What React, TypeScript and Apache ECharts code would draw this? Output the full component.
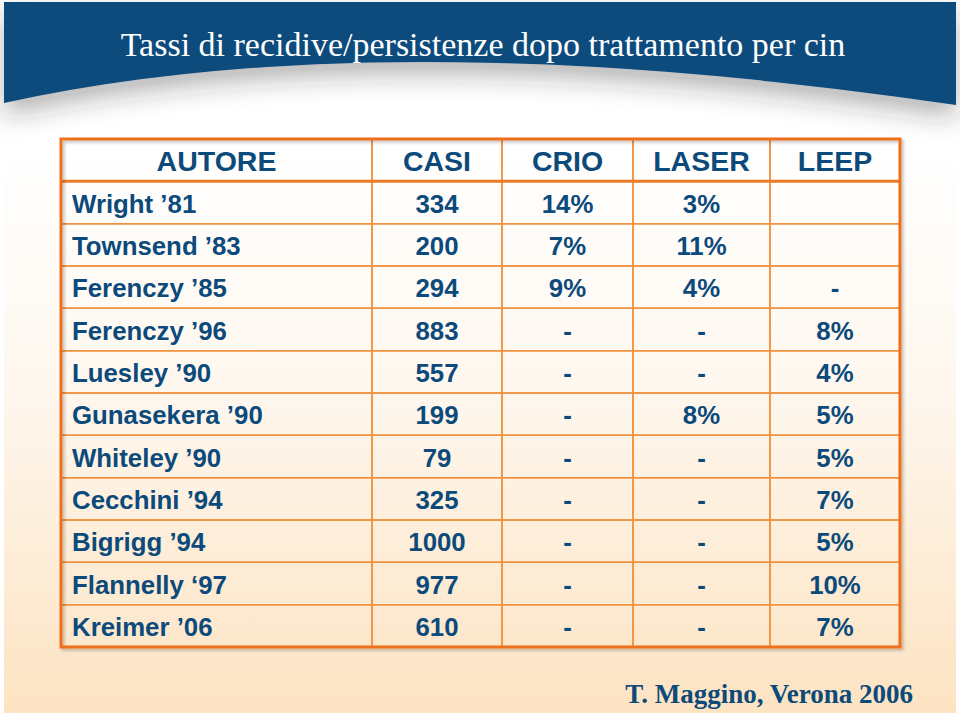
import React, { useEffect, useRef } from "react";
import * as echarts from "echarts";

// ---- data ----
const TITLE = "Tassi di recidive/persistenze dopo trattamento per cin";
const FOOTER = "T. Maggino, Verona 2006";
const HEADERS = ["AUTORE", "CASI", "CRIO", "LASER", "LEEP"];
const AUTHORS = [
  "Wright \u201981",
  "Townsend \u201983",
  "Ferenczy \u201985",
  "Ferenczy \u201996",
  "Luesley \u201990",
  "Gunasekera \u201990",
  "Whiteley \u201990",
  "Cecchini \u201994",
  "Bigrigg \u201994",
  "Flannelly \u201897",
  "Kreimer \u201906",
];
const CASI = [334, 200, 294, 883, 557, 199, 79, 325, 1000, 977, 610];
const CRIO = ["14%", "7%", "9%", "-", "-", "-", "-", "-", "-", "-", "-"];
const LASER = ["3%", "11%", "4%", "-", "-", "8%", "-", "-", "-", "-", "-"];
const LEEP = ["", "", "-", "8%", "4%", "5%", "5%", "7%", "5%", "10%", "7%"];

// ---- layout (not data) ----
const COL_EDGES = [0, 37.07, 52.56, 68.18, 84.5, 100];
const ROW_KEYS = ["header", ...AUTHORS];
const TEXT_COLOR = "#0C4A7B";

const columns = [AUTHORS, CASI.map(String), CRIO, LASER, LEEP];
const cellData: number[][] = [];
const cellText: string[] = [];
for (let r = 0; r < ROW_KEYS.length; r++) {
  for (let c = 0; c < HEADERS.length; c++) {
    cellData.push([c, r]);
    cellText.push(r === 0 ? HEADERS[c] : String(columns[c][r - 1]));
  }
}

let registered = false;
function registerShapes() {
  if (registered) return;
  registered = true;
  const d = "M4,2 L956,2 L956,105 Q380,20 4,103 Z";
  echarts.graphic.registerShape("bluewave", echarts.graphic.extendPath(d, {}) as any);
}

export default function App() {
  const ref = useRef<HTMLDivElement>(null);
  useEffect(() => {
    if (!ref.current) return;
    registerShapes();
    const chart = echarts.init(ref.current, null, { renderer: "svg" });
    const option: any = {
      animation: false,
      backgroundColor: "#ffffff",
      grid: { left: 61, right: 60, top: 139, bottom: 69, containLabel: false },
      xAxis: { type: "value", min: 0, max: 100, show: false },
      yAxis: { type: "category", data: ROW_KEYS, inverse: true, show: false },
      graphic: [
        {
          type: "rect",
          z: -20,
          shape: { x: 4, y: 2, width: 952, height: 711 },
          style: {
            fill: {
              type: "linear",
              x: 0,
              y: 0,
              x2: 0,
              y2: 1,
              colorStops: [
                { offset: 0, color: "#ffffff" },
                { offset: 0.2, color: "#ffffff" },
                { offset: 0.55, color: "#FEF7EE" },
                { offset: 1, color: "#FCE3C2" },
              ],
            },
          },
        },
        {
          type: "bluewave",
          z: -10,
          x: 0,
          y: 0,
          style: {
            fill: "#0B4C7D",
            shadowColor: "rgba(40,40,40,0.35)",
            shadowBlur: 26,
            shadowOffsetY: 12,
          },
        },
        {
          type: "text",
          z: 10,
          x: 483,
          y: 44,
          style: {
            text: TITLE,
            fill: "#ffffff",
            font: "normal 34px 'Liberation Serif', 'Times New Roman', serif",
            align: "center",
            verticalAlign: "middle",
            textAlign: "center",
            textVerticalAlign: "middle",
          },
        },
        {
          type: "text",
          z: 10,
          x: 913,
          y: 694,
          style: {
            text: FOOTER,
            fill: "#0E4A79",
            font: "bold 27px 'Liberation Serif', 'Times New Roman', serif",
            align: "right",
            verticalAlign: "middle",
            textAlign: "right",
            textVerticalAlign: "middle",
          },
        },
      ],
      series: [
        {
          type: "custom",
          name: "cells",
          z: 3,
          data: cellData,
          renderItem: (params: any, api: any) => {
            const c = api.value(0);
            const r = api.value(1);
            const x0 = api.coord([COL_EDGES[c], r])[0];
            const x1 = api.coord([COL_EDGES[c + 1], r])[0];
            const yc = api.coord([0, r])[1];
            const h = api.size([0, 1])[1];
            const isHeader = r === 0;
            const leftAlign = !isHeader && c === 0;
            const text = cellText[params.dataIndex];
            return {
              type: "group",
              children: [
                {
                  type: "rect",
                  shape: { x: x0, y: yc - h / 2, width: x1 - x0, height: h },
                  style: { fill: "transparent", stroke: "#F0923F", lineWidth: 1.5 },
                },
                {
                  type: "text",
                  x: leftAlign ? x0 + 11 : (x0 + x1) / 2,
                  y: yc + 1,
                  style: {
                    text,
                    fill: TEXT_COLOR,
                    font: isHeader
                      ? "bold 28.5px 'Liberation Sans', Arial, sans-serif"
                      : "bold 25.8px 'Liberation Sans', Arial, sans-serif",
                    align: leftAlign ? "left" : "center",
                    verticalAlign: "middle",
                    textAlign: leftAlign ? "left" : "center",
                    textVerticalAlign: "middle",
                  },
                },
              ],
            };
          },
        },
        {
          type: "custom",
          name: "frame",
          z: 4,
          data: [[0, 0]],
          renderItem: (params: any, api: any) => {
            const h = api.size([0, 1])[1];
            const tl = api.coord([0, 0]);
            const br = api.coord([100, ROW_KEYS.length - 1]);
            const top = tl[1] - h / 2;
            const bottom = br[1] + h / 2;
            return {
              type: "group",
              children: [
                {
                  type: "line",
                  shape: { x1: tl[0], y1: top + h, x2: br[0], y2: top + h },
                  style: { stroke: "#EE7A28", lineWidth: 3 },
                },
                {
                  type: "rect",
                  shape: { x: tl[0], y: top, width: br[0] - tl[0], height: bottom - top },
                  style: {
                    fill: "transparent",
                    stroke: "#EE6F1C",
                    lineWidth: 3,
                    shadowColor: "rgba(0,0,0,0.25)",
                    shadowBlur: 3,
                    shadowOffsetX: 2,
                    shadowOffsetY: 2,
                  },
                },
              ],
            };
          },
        },
      ],
    };
    chart.setOption(option);
    return () => chart.dispose();
  }, []);
  return (
    <div
      ref={ref}
      style={{ position: "fixed", left: 0, top: 0, width: 960, height: 716 }}
    />
  );
}
